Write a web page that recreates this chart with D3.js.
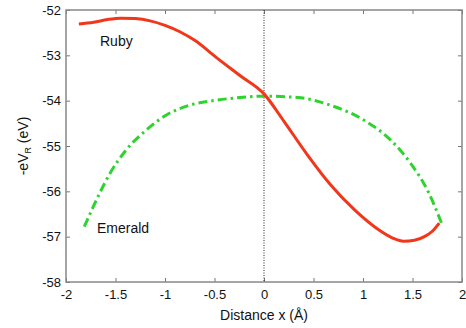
<!DOCTYPE html>
<html>
<head>
<meta charset="utf-8">
<script src="https://cdn.jsdelivr.net/npm/d3@7"></script>
<style>
  body { margin: 0; background: #fff; }
  svg text { font-family: Arial, "Liberation Sans", sans-serif; fill: #111; }
</style>
</head>
<body>
<svg id="chart" width="466" height="328"></svg>
<script>
    'use strict';

    var rubyX = [-1.87, -1.72, -1.58, -1.45, -1.3, -1.15, -1.0, -0.85, -0.7, -0.48, -0.24, 0,
        0.2, 0.44, 0.67, 0.91, 1.14, 1.3, 1.41, 1.52, 1.62, 1.7, 1.77];
    var rubyY = [-52.31, -52.27, -52.21, -52.18, -52.19, -52.24, -52.34, -52.48, -52.67, -53.05, -53.45, -53.85,
        -54.45, -55.2, -55.85, -56.4, -56.82, -57.03, -57.1, -57.08, -57.0, -56.88, -56.7];

    var emeraldX = [-1.815, -1.66, -1.56, -1.39, -1.19, -0.99, -0.75, -0.48, -0.24, 0,
        0.34, 0.67, 1.01, 1.28, 1.48, 1.65, 1.8];
    var emeraldY = [-56.78, -56.04, -55.62, -55.08, -54.65, -54.32, -54.1, -53.99, -53.93, -53.9,
        -53.93, -54.1, -54.43, -54.87, -55.38, -55.97, -56.74];

    var xTicks = [-2, -1.5, -1, -0.5, 0, 0.5, 1, 1.5, 2];
    var yTicks = [-52, -53, -54, -55, -56, -57, -58];

    var margin = {left: 66, right: 4, top: 10, bottom: 46};
    var width = 466, height = 328;

    var svg = d3.select('#chart');

    var x = d3.scaleLinear().domain([-2, 2]).range([margin.left, width - margin.right]);
    var y = d3.scaleLinear().domain([-58, -52]).range([height - margin.bottom, margin.top]);

    // matlab style labels use a plain hyphen
    var fmt = function(d){ return String(d); };

    function styleAxis(g){
        g.select('.domain').remove();
        g.selectAll('.tick line').attr('stroke', '#777');
        g.selectAll('.tick text').style('font-size', '13px').attr('fill', '#111');
    }

    svg.append('g')
        .attr('transform', 'translate(0,' + y(-58) + ')')
        .call(d3.axisBottom(x).tickValues(xTicks).tickSize(-4).tickPadding(8).tickFormat(fmt))
        .call(styleAxis);
    svg.append('g')
        .attr('transform', 'translate(0,' + y(-52) + ')')
        .call(d3.axisTop(x).tickValues(xTicks).tickSize(-4).tickFormat(''))
        .call(styleAxis);

    svg.append('g')
        .attr('transform', 'translate(' + x(-2) + ',0)')
        .call(d3.axisLeft(y).tickValues(yTicks).tickSize(-4).tickPadding(5).tickFormat(fmt))
        .call(styleAxis);
    svg.append('g')
        .attr('transform', 'translate(' + x(2) + ',0)')
        .call(d3.axisRight(y).tickValues(yTicks).tickSize(-4).tickFormat(''))
        .call(styleAxis);

    // frame
    svg.append('rect')
        .attr('x', x(-2)).attr('y', y(-52))
        .attr('width', x(2) - x(-2)).attr('height', y(-58) - y(-52))
        .attr('fill', 'none').attr('stroke', '#888').attr('stroke-width', 1.5);

    // dotted line at x = 0
    svg.append('line')
        .attr('x1', x(0)).attr('x2', x(0))
        .attr('y1', y(-52)).attr('y2', y(-58))
        .attr('stroke', '#222').attr('stroke-width', 1)
        .attr('stroke-dasharray', '1,1.5');

    var line = d3.line().curve(d3.curveMonotoneX);

    svg.append('path')
        .datum(emeraldX.map(function(d, i){ return [x(d), y(emeraldY[i])]; }))
        .attr('d', line)
        .attr('fill', 'none')
        .attr('stroke', '#2ed32e')
        .attr('stroke-width', 3)
        .attr('stroke-dasharray', '9,4,2.5,4');

    svg.append('path')
        .datum(rubyX.map(function(d, i){ return [x(d), y(rubyY[i])]; }))
        .attr('d', line)
        .attr('fill', 'none')
        .attr('stroke', '#f2361a')
        .attr('stroke-width', 3);

    svg.append('text').attr('x', 100).attr('y', 46).style('font-size', '14px').text('Ruby');
    svg.append('text').attr('x', 97).attr('y', 233).style('font-size', '14px').text('Emerald');

    svg.append('text')
        .attr('x', (x(-2) + x(2)) / 2).attr('y', 320)
        .attr('text-anchor', 'middle')
        .style('font-size', '14px')
        .text('Distance x (Å)');

    var yl = svg.append('text')
        .attr('transform', 'translate(28,' + ((y(-52) + y(-58)) / 2) + ') rotate(-90)')
        .attr('text-anchor', 'middle')
        .style('font-size', '14px');
    yl.append('tspan').text('-eV');
    yl.append('tspan').attr('dy', 3).style('font-size', '9px').text('R');
    yl.append('tspan').attr('dy', -3).text(' (eV)');
</script>
</body>
</html>
